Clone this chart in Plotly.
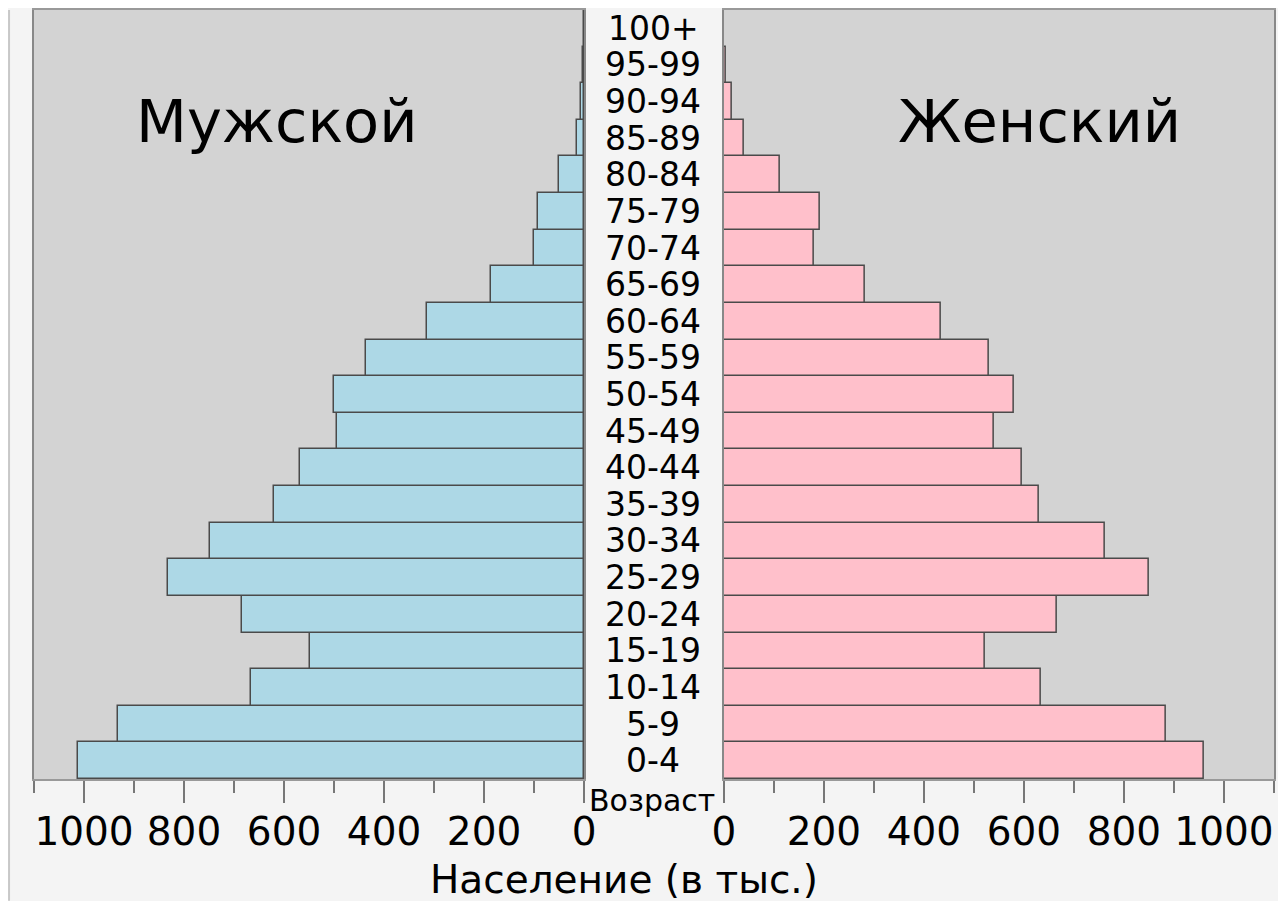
import plotly.graph_objects as go

ages = ['0-4', '5-9', '10-14', '15-19', '20-24', '25-29', '30-34', '35-39', '40-44',
        '45-49', '50-54', '55-59', '60-64', '65-69', '70-74', '75-79', '80-84',
        '85-89', '90-94', '95-99', '100+']
male = [1012, 933, 666, 548, 684, 832, 748, 620, 568, 495, 501, 436, 315, 186,
        100, 93, 51, 15, 7, 2, 0.5]
female = [959, 883, 633, 521, 666, 850, 762, 630, 596, 540, 579, 529, 434, 282,
          179, 192, 112, 39, 16, 3, 0.5]

# the page body adds an 8px offset, so the figure is a bit smaller than the window
O = 8
W, H = 1286 - O, 901 - O
L, R, T, B = 34 - O, 10, 8 - O, 901 - 779
pw = W - L - R
ph = H - T - B
px2x = lambda p: (p - O - L) / pw
px2y = lambda p: (H - B - (p - O)) / ph

font = 'DejaVu Sans'
outline = dict(color='#4a4a4a', width=1.5)

fig = go.Figure()
fig.add_trace(go.Bar(y=ages, x=male, orientation='h', marker=dict(color='#add8e6', line=outline),
                     xaxis='x', yaxis='y', showlegend=False))
fig.add_trace(go.Bar(y=ages, x=female, orientation='h', marker=dict(color='#ffc0cb', line=outline),
                     xaxis='x2', yaxis='y2', showlegend=False))

xcommon = dict(dtick=200, ticks='outside', ticklen=22, tickwidth=2, tickcolor='#777',
               minor=dict(dtick=100, ticks='outside', ticklen=12, tickwidth=2, tickcolor='#777'),
               showgrid=False, zeroline=False, showline=True, linecolor='#999', linewidth=2,
               mirror=True, tickfont=dict(family=font, size=39, color='black'),
               ticklabelstandoff=-5)
ycommon = dict(range=[-0.5, 20.5], showticklabels=False, ticks='', showgrid=False,
               showline=True, linecolor='#888', linewidth=2, mirror=True)

fig.update_layout(
    width=W, height=H,
    margin=dict(l=L, r=R, t=T, b=B),
    paper_bgcolor='#f4f4f4', plot_bgcolor='#d3d3d3',
    bargap=0,
    xaxis=dict(domain=[0, px2x(585)], range=[1100, 0], anchor='y', **xcommon),
    xaxis2=dict(domain=[px2x(725), 1], range=[0, 1100], anchor='y2', **xcommon),
    yaxis=dict(anchor='x', **ycommon),
    yaxis2=dict(anchor='x2', **ycommon),
)

def label(text, x, y, size, yref='paper'):
    fig.add_annotation(text=text, x=px2x(x), y=y if yref == 'y' else px2y(y),
                       xref='paper', yref=yref, xanchor='center', yanchor='middle',
                       showarrow=False, font=dict(family=font, size=size, color='black'))

for a in ages:
    label(a, 654, a, 33, yref='y')

label('Мужской', 277, 120, 59)
label('Женский', 1041, 120, 59)
label('Возраст', 653, 801, 30)
label('Население (в тыс.)', 625, 880, 39)

fig.add_shape(type='line', xref='paper', yref='paper', x0=px2x(O + 1), x1=px2x(O + 1),
              y0=px2y(O), y1=px2y(901), line=dict(color='#c8c8c8', width=2))

fig.write_html("out.html")
